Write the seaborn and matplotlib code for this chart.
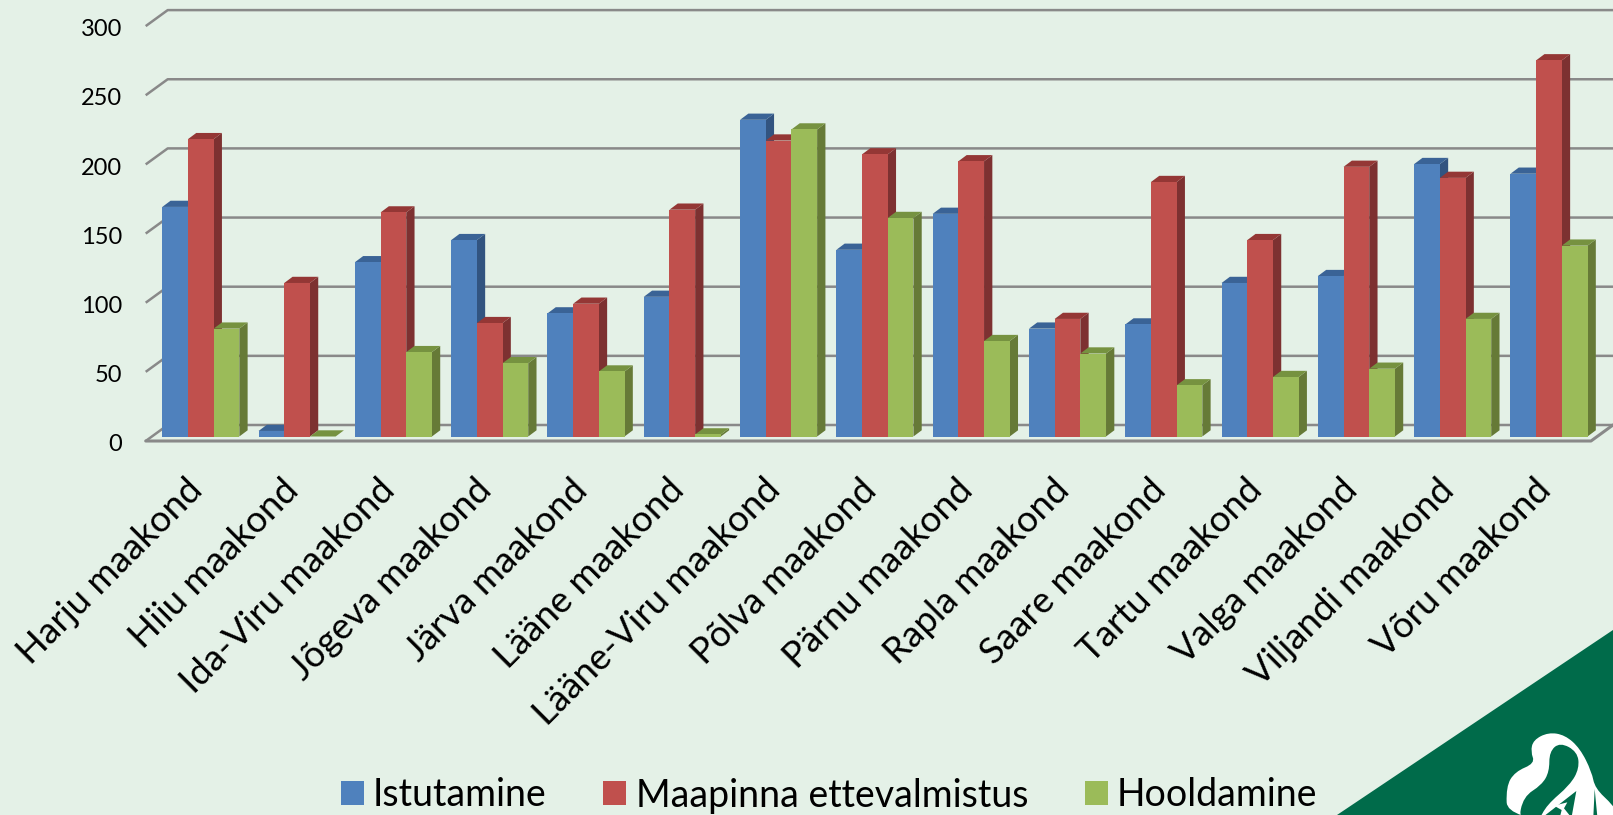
import pandas as pd
import numpy as np
import matplotlib.pyplot as plt
from matplotlib.patches import Polygon, PathPatch
from matplotlib.path import Path
from matplotlib.transforms import ScaledTranslation
import seaborn as sns

maakonnad = ["Harju maakond", "Hiiu maakond", "Ida-Viru maakond", "Jõgeva maakond",
             "Järva maakond", "Lääne maakond", "Lääne-Viru maakond", "Põlva maakond",
             "Pärnu maakond", "Rapla maakond", "Saare maakond", "Tartu maakond",
             "Valga maakond", "Viljandi maakond", "Võru maakond"]
istutamine = [166, 4, 126, 142, 89, 101, 229, 135, 161, 78, 81, 111, 116, 197, 190]
maapinna = [215, 111, 162, 82, 96, 164, 214, 204, 199, 85, 184, 142, 195, 187, 272]
hooldamine = [78, 0, 61, 53, 47, 1.5, 222, 158, 69, 60, 37, 43, 49, 85, 138]
y_ticks = [0, 50, 100, 150, 200, 250, 300]

BG = "#E4F1E7"
LOGO_GREEN = "#006B4A"
colors = {"Istutamine": "#4F81BD", "Maapinna ettevalmistus": "#C0504D", "Hooldamine": "#9BBB59"}
side_colors = ["#325480", "#7D3131", "#667A37"]
top_colors = ["#3A6396", "#943735", "#769240"]

df = pd.DataFrame({"maakond": maakonnad, "Istutamine": istutamine,
                   "Maapinna ettevalmistus": maapinna, "Hooldamine": hooldamine})
df = df.melt(id_vars="maakond", var_name="too", value_name="vaartus")

sns.set_theme(style="white")
plt.rcParams["font.family"] = ["Lato", "DejaVu Sans"]

W, H = 1613, 815
fig = plt.figure(figsize=(W / 100, H / 100), dpi=100, facecolor=BG)

# pixel layout of the fake 3d box
px_group = 96.3
px_unit = 1.383
x_first = 200.8
y_base = 436.5
left_px, floor_px = 145.7, 441
ax = fig.add_axes([left_px / W, (H - floor_px) / H, (W - left_px) / W, floor_px / H])
ax.set_facecolor("none")

sns.barplot(data=df, x="maakond", y="vaartus", hue="too", palette=colors, width=0.8,
            gap=0, saturation=1, linewidth=0, ax=ax, zorder=3)

xmin = (left_px - x_first) / px_group
xmax = (W - x_first) / px_group
ax.set_xlim(xmin, xmax)
ax.set_ylim((y_base - floor_px) / px_unit, y_base / px_unit)

# depth of bars and of the back wall, in data units
bar_dx, bar_dy = 8.3 / px_group, 6.2 / px_unit
wall_dx, wall_dy = 22 / px_group, 16 / px_unit
front = (y_base - floor_px) / px_unit

for n, cont in enumerate(ax.containers):
    for bar in cont:
        x0, x1 = bar.get_x(), bar.get_x() + bar.get_width()
        y1 = bar.get_height()
        z = 3 + n
        bar.set_zorder(z + 0.2)
        ax.add_patch(Polygon([(x1, 0), (x1 + bar_dx, bar_dy), (x1 + bar_dx, y1 + bar_dy), (x1, y1)],
                             fc=side_colors[n], ec="none", zorder=z, clip_on=False))
        ax.add_patch(Polygon([(x0, y1), (x0 + bar_dx, y1 + bar_dy), (x1 + bar_dx, y1 + bar_dy), (x1, y1)],
                             fc=top_colors[n], ec="none", zorder=z + 0.1, clip_on=False))

grid_kw = dict(color="#898989", lw=1.8, zorder=1, clip_on=False, solid_capstyle="butt")
for v in y_ticks:
    ax.plot([xmin, xmin + wall_dx, xmax], [v + front, v + front + wall_dy, v + front + wall_dy], **grid_kw)
ax.plot([xmin, xmax - wall_dx, xmax], [front, front, front + wall_dy], color="#898989", lw=2.2,
        zorder=2, clip_on=False)

ax.set_xlabel("")
ax.set_ylabel("")
ax.set_yticks(y_ticks)
ax.tick_params(axis="both", length=0)
ax.tick_params(axis="y", labelsize=17, pad=17, labelcolor="black")
ax.tick_params(axis="x", labelsize=26.4, pad=18, labelcolor="black")
down = ScaledTranslation(0, -6.2 / 100, fig.dpi_scale_trans)
for lab in ax.get_yticklabels():
    lab.set_transform(lab.get_transform() + down)
shift = ScaledTranslation(-15.5 / 100, -7 / 100, fig.dpi_scale_trans)
for lab in ax.get_xticklabels():
    lab.set_rotation(45)
    lab.set_ha("right")
    lab.set_va("top")
    lab.set_rotation_mode("anchor")
    lab.set_transform(lab.get_transform() + shift)
sns.despine(ax=ax, left=True, bottom=True, top=True, right=True)

handles, labels = ax.get_legend_handles_labels()
ax.get_legend().remove()
fig.legend(handles, labels, ncol=3, frameon=False, loc="lower left", bbox_to_anchor=(336 / W, -3 / H),
           fontsize=27, handlelength=0.62, handleheight=0.62, handletextpad=0.25, columnspacing=1.5,
           labelcolor="black", borderaxespad=0, borderpad=0.12)

# green corner with the logo, traced in pixels of the logo crop
def logo_xy(pts):
    return [((1480 + x / 3) / W, (H - (715 + y / 3)) / H) for x, y in pts]


def smooth_patch(pts, color, z):
    # closed quadratic spline through the midpoints of the outline
    xy = np.array(logo_xy(pts))
    mids = (xy + np.roll(xy, -1, axis=0)) / 2
    verts, codes = [mids[-1]], [Path.MOVETO]
    for p, m in zip(xy, mids):
        verts += [p, m]
        codes += [Path.CURVE3, Path.CURVE3]
    return PathPatch(Path(verts, codes), transform=fig.transFigure, fc=color, ec="none", zorder=z, clip_on=True)


fig.add_artist(Polygon([(1337 / W, 0), (1, (H - 630) / H), (1, 0)], transform=fig.transFigure,
                       fc=LOGO_GREEN, ec="none", zorder=5))
outer = [(205, 52), (160, 75), (152, 110), (165, 145), (105, 170), (78, 215), (82, 310), (450, 340),
         (399, 270), (345, 220), (335, 170), (300, 100), (255, 60)]
ribbon = [(240, 82), (208, 110), (208, 170), (185, 210), (130, 245), (115, 320), (175, 320),
          (200, 270), (270, 210), (298, 160), (292, 110)]
fig.add_artist(smooth_patch(outer, "white", 6))
fig.add_artist(smooth_patch(ribbon, LOGO_GREEN, 7))
fig.add_artist(Polygon(logo_xy([(289, 228), (190, 305), (275, 305)]), transform=fig.transFigure,
                       fc=LOGO_GREEN, ec="none", zorder=7))
fig.add_artist(Polygon(logo_xy([(222, 272), (262, 262), (252, 280), (272, 305), (240, 305), (245, 285)]),
                       transform=fig.transFigure, fc="white", ec="none", zorder=8))
fig.add_artist(Polygon(logo_xy([(344, 222), (352, 305), (340, 305)]), transform=fig.transFigure,
                       fc=LOGO_GREEN, ec="none", zorder=7))

fig.savefig("out.png", dpi=100, facecolor=BG)
